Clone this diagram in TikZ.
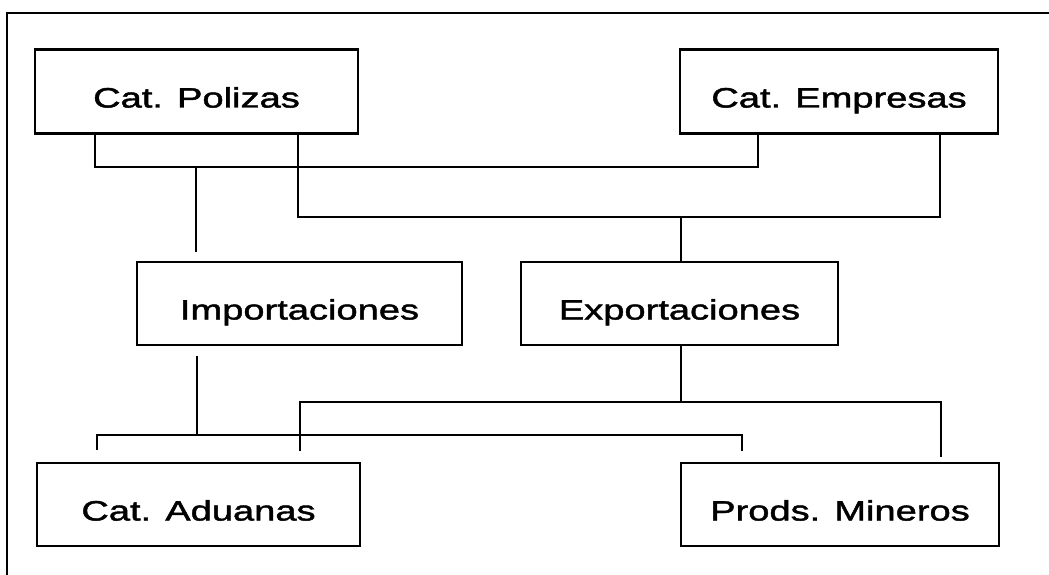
\documentclass[tikz,border=0pt]{standalone}
\usepackage{fontspec}
\newfontfamily\boxfont[FakeStretch=1.36,FakeBold=1.6]{Liberation Sans}
\begin{document}
\begin{tikzpicture}[x=1pt,y=-1pt,
  entity/.style={draw, line width=2.4pt, inner sep=0pt, font=\boxfont\fontsize{28}{30}\selectfont,
    text height=32pt, text depth=0pt},
  link/.style={line width=2.4pt, line join=miter}]
\useasboundingbox (0,0) rectangle (1049,575);
\fill[white] (0,0) rectangle (1049,575);
\draw[line width=2.4pt] (7,580) -- (7,13) -- (1055,13);
\node[entity, minimum width=323pt, minimum height=84pt] (polizas) at (196.5,91.5) {Cat. Polizas};
\node[entity, minimum width=318pt, minimum height=84pt] (empresas) at (839,91.5) {Cat. Empresas};
\node[entity, minimum width=325pt, minimum height=83pt] (import) at (299.5,303.5) {Importaciones};
\node[entity, minimum width=317pt, minimum height=83pt] (export) at (679.5,303.5) {Exportaciones};
\node[entity, minimum width=323pt, minimum height=83pt] (aduanas) at (198.5,504.5) {Cat. Aduanas};
\node[entity, minimum width=318pt, minimum height=83pt] (mineros) at (840,504.5) {Prods. Mineros};
% junction coordinates
\coordinate (j1) at (196,167);
\coordinate (j2) at (681,217);
\coordinate (j3) at (197,435);
\coordinate (j4) at (681,402);
% Polizas/Empresas -> Importaciones
\draw[link] (polizas.south -| 95,0) |- (j1) -| (empresas.south -| 758,0);
\draw[link, shorten >=9pt] (j1) -- (import.north -| j1);
% Polizas/Empresas -> Exportaciones
\draw[link] (polizas.south -| 298,0) |- (j2) -| (empresas.south -| 940,0);
\draw[link] (j2) -- (export.north -| j2);
% Importaciones -> Aduanas/Mineros
\draw[link, shorten <=10pt] (import.south -| j3) -- (j3);
\draw[link, shorten >=12pt] (j3) -| (aduanas.north -| 97,0);
\draw[link, shorten >=11pt] (j3) -| (mineros.north -| 742,0);
% Exportaciones -> Aduanas/Mineros
\draw[link] (export.south -| j4) -- (j4);
\draw[link, shorten >=11pt] (j4) -| (aduanas.north -| 300,0);
\draw[link, shorten >=5pt] (j4) -| (mineros.north -| 941,0);
\end{tikzpicture}
\end{document}
